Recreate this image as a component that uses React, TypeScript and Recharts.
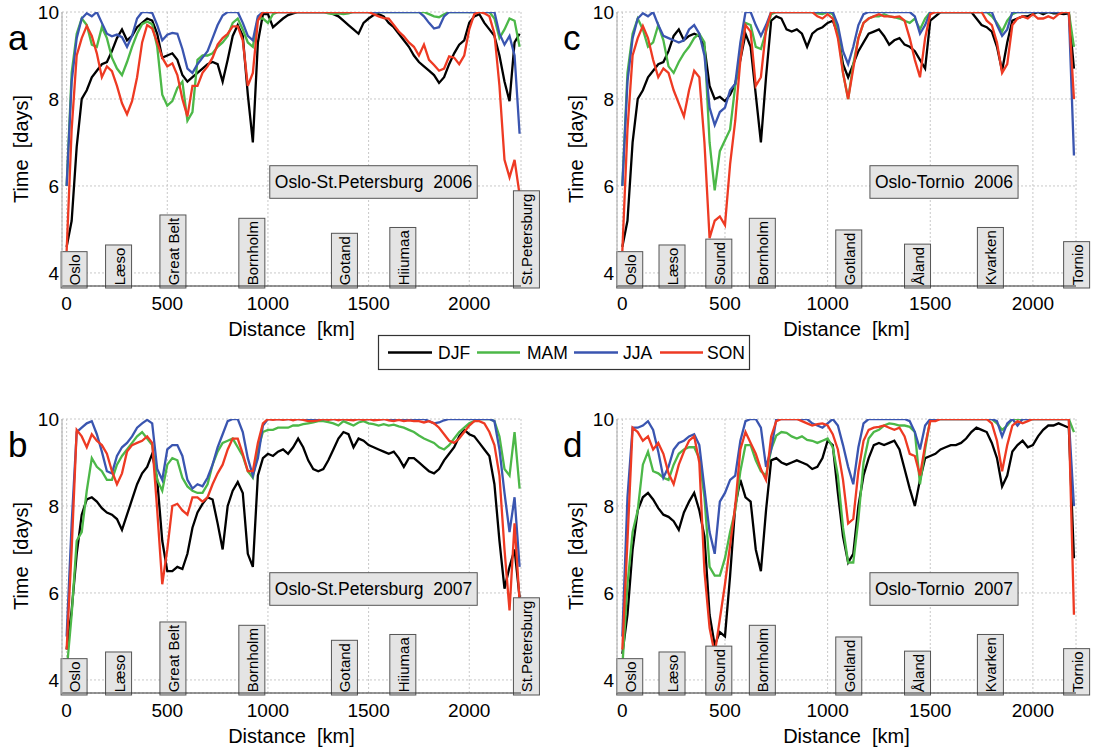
import { LineChart, Line, XAxis, YAxis, CartesianGrid, ReferenceLine } from "recharts";

const FONT = '"Liberation Sans", Arial, Helvetica, sans-serif';

const SEASONS = ["DJF", "MAM", "JJA", "SON"];
const COLORS = ["#000000", "#4cb848", "#3a55b0", "#ee3a23"];

// distance along route, km
const DIST_SP = [
  0, 25, 50, 75, 100, 125, 150, 175, 200, 225,
  250, 275, 300, 325, 350, 375, 400, 425, 450, 475,
  500, 525, 550, 575, 600, 625, 650, 675, 700, 725,
  750, 775, 800, 825, 850, 875, 900, 925, 950, 975,
  1000, 1025, 1050, 1075, 1100, 1125, 1150, 1175, 1200, 1225,
  1250, 1275, 1300, 1325, 1350, 1375, 1400, 1425, 1450, 1475,
  1500, 1525, 1550, 1575, 1600, 1625, 1650, 1675, 1700, 1725,
  1750, 1775, 1800, 1825, 1850, 1875, 1900, 1925, 1950, 1975,
  2000, 2025, 2050, 2075, 2100, 2125, 2150, 2175, 2200, 2225,
  2250,
];
const DIST_TO = [
  0, 25, 50, 75, 100, 125, 150, 175, 200, 225,
  250, 275, 300, 325, 350, 375, 400, 425, 450, 475,
  500, 525, 550, 575, 600, 625, 650, 675, 700, 725,
  750, 775, 800, 825, 850, 875, 900, 925, 950, 975,
  1000, 1025, 1050, 1075, 1100, 1125, 1150, 1175, 1200, 1225,
  1250, 1275, 1300, 1325, 1350, 1375, 1400, 1425, 1450, 1475,
  1500, 1525, 1550, 1575, 1600, 1625, 1650, 1675, 1700, 1725,
  1750, 1775, 1800, 1825, 1850, 1875, 1900, 1925, 1950, 1975,
  2000, 2025, 2050, 2075, 2100, 2125, 2150, 2175, 2200,
];

// a: Oslo-St.Petersburg 2006
const SP06_DJF = [
  4.6, 5.2, 6.9, 8.0, 8.2, 8.5, 8.65, 8.8, 8.85, 9.1,
  9.4, 9.6, 9.35, 9.45, 9.65, 9.75, 9.85, 9.8, 9.5, 8.95,
  9.0, 9.05, 8.9, 8.55, 8.4, 8.5, 8.6, 8.7, 8.8, 8.85,
  8.8, 8.4, 8.9, 9.45, 9.7, 9.45, 8.1, 7.0, 9.3, 9.95,
  9.95, 9.65, 9.75, 9.85, 9.93, 9.97, 10, 10, 10, 10,
  10, 10, 10, 9.95, 9.9, 9.8, 9.7, 9.6, 9.5, 9.75,
  9.85, 9.93, 9.95, 9.9, 9.75, 9.65, 9.5, 9.35, 9.2, 9.0,
  8.85, 8.75, 8.65, 8.55, 8.37, 8.5, 8.8, 9.05, 9.25, 9.35,
  9.75, 9.9, 9.95, 9.75, 9.6, 9.45, 9.0, 8.4, 7.95, 9.3,
  9.5,
];
const SP06_MAM = [
  6.0, 8.6, 9.5, 9.85, 9.7, 9.25, 9.2, 9.65, 9.4, 8.95,
  8.7, 8.55, 8.85, 9.2, 9.5, 9.72, 9.78, 9.72, 9.2, 8.1,
  7.85, 7.95, 8.25, 8.4, 7.5, 7.7, 8.9, 9.0, 9.0, 9.05,
  9.2, 9.3, 9.45, 9.75, 9.85, 9.6, 9.3, 9.2, 9.85, 9.85,
  9.75, 9.95, 10, 10, 10, 10, 10, 10, 10, 10,
  10, 10, 9.97, 9.95, 9.97, 9.95, 9.97, 10, 10, 10,
  10, 10, 10, 10, 10, 10, 10, 10, 10, 10,
  10, 10, 9.95, 9.9, 9.88, 9.95, 10, 10, 10, 10,
  10, 10, 10, 10, 10, 9.85, 9.4, 9.6, 9.85, 9.8,
  9.2,
];
const SP06_JJA = [
  6.0, 8.4, 9.4, 9.85, 9.97, 9.9, 10, 9.75, 9.5, 9.44,
  9.48, 9.42, 9.2, 9.45, 9.85, 10, 10, 9.98, 9.7, 9.35,
  9.48, 9.52, 9.5, 9.15, 8.7, 8.6, 8.8, 8.95, 9.1, 9.4,
  9.7, 9.92, 10, 10, 10, 9.75, 9.45, 9.35, 9.9, 10,
  10, 10, 10, 10, 10, 10, 10, 10, 10, 10,
  10, 10, 10, 10, 10, 10, 10, 10, 10, 10,
  10, 10, 10, 10, 10, 10, 10, 10, 10, 10,
  10, 9.9, 9.75, 9.62, 9.65, 9.9, 10, 10, 10, 10,
  10, 10, 10, 10, 10, 10, 9.5, 9.25, 9.45, 9.0,
  7.2,
];
const SP06_SON = [
  4.5, 7.3, 9.0, 9.4, 9.68, 9.45, 9.05, 8.5, 8.75, 8.64,
  8.3, 7.9, 7.65, 7.95, 8.5, 9.3, 9.7, 9.62, 9.3, 8.95,
  8.75, 8.82, 8.55, 8.0, 7.6, 8.3, 8.3, 8.6, 8.75, 8.95,
  9.25, 9.4, 9.5, 9.67, 9.67, 9.35, 8.3, 8.6, 9.8, 10,
  10, 10, 10, 10, 10, 10, 10, 10, 10, 10,
  10, 10, 10, 10, 10, 10, 10, 10, 10, 10,
  10, 9.95, 9.9, 9.86, 9.85, 9.7, 9.55, 9.44, 9.3, 9.2,
  9.0, 9.25, 8.9, 8.78, 8.65, 8.7, 8.98, 8.95, 8.8, 9.0,
  9.6, 9.95, 10, 9.97, 9.9, 9.5, 8.3, 6.6, 6.2, 6.6,
  5.8,
];

// b: Oslo-St.Petersburg 2007
const SP07_DJF = [
  4.7, 5.6, 6.9, 7.8, 8.15, 8.2, 8.1, 7.95, 7.85, 7.8,
  7.7, 7.45, 7.8, 8.15, 8.5, 8.75, 8.9, 9.2, 8.6, 7.2,
  6.5, 6.5, 6.6, 6.55, 6.9, 7.5, 7.85, 8.05, 8.2, 8.15,
  7.6, 7.0, 8.0, 8.35, 8.55, 8.3, 6.9, 6.6, 8.7, 9.1,
  9.2, 9.15, 9.25, 9.3, 9.2, 9.35, 9.55, 9.35, 9.05, 8.85,
  8.8, 8.85, 9.05, 9.3, 9.55, 9.7, 9.65, 9.35, 9.55, 9.5,
  9.4, 9.35, 9.3, 9.25, 9.2, 9.25, 9.1, 8.9, 9.1, 9.1,
  9.0, 8.9, 8.8, 8.75, 8.85, 9.05, 9.2, 9.35, 9.6, 9.75,
  9.65, 9.6, 9.45, 9.3, 9.15, 8.5, 7.2, 6.1, 6.6, 7.0,
  5.9,
];
const SP07_MAM = [
  4.2, 5.5, 7.2, 7.4, 8.35, 9.1, 8.9, 8.8, 8.6, 8.6,
  8.95, 9.15, 9.3, 9.45, 9.6, 9.7, 9.55, 9.4, 8.6, 8.35,
  8.95, 9.1, 9.05, 8.65, 8.45, 8.35, 8.3, 8.3, 8.5, 8.95,
  9.25, 9.45, 9.5, 9.55, 9.35, 9.15, 8.8, 8.65, 9.3, 9.7,
  9.75, 9.75, 9.8, 9.8, 9.8, 9.85, 9.85, 9.88, 9.9, 9.92,
  9.95, 9.95, 9.93, 9.9, 9.85, 9.95, 9.9, 9.85, 9.92, 9.95,
  9.9, 9.88, 9.85, 9.88, 9.85, 9.87, 9.83, 9.8, 9.75, 9.7,
  9.62, 9.55, 9.5, 9.45, 9.35, 9.3, 9.4, 9.55, 9.7, 9.8,
  9.9, 9.95, 10, 10, 10, 9.95, 9.6, 8.85, 8.7, 9.7,
  8.4,
];
const SP07_JJA = [
  5.0, 7.6, 9.7, 9.8, 9.9, 9.95, 9.65, 9.25, 8.8, 8.75,
  9.15, 9.35, 9.45, 9.6, 9.8, 9.9, 9.98, 9.9, 8.85, 8.6,
  9.3, 9.4, 9.4, 9.15, 8.6, 8.4, 8.5, 8.45, 8.65, 8.95,
  9.35, 9.65, 9.95, 10, 10, 9.7, 9.1, 8.7, 9.1, 9.85,
  10, 10, 10, 10, 10, 10, 10, 10, 10, 10,
  10, 10, 10, 10, 10, 10, 10, 10, 10, 10,
  10, 10, 10, 10, 10, 10, 10, 10, 10, 10,
  10, 10, 9.95, 9.9, 9.92, 9.97, 10, 10, 10, 10,
  10, 10, 10, 10, 10, 9.95, 9.3, 8.3, 7.4, 8.2,
  6.6,
];
const SP07_SON = [
  4.7, 7.0, 9.75, 9.6, 9.35, 9.65, 9.5, 9.4, 9.2, 8.8,
  8.5, 8.75, 9.25, 9.4, 9.45, 9.5, 9.6, 9.45, 7.9, 6.2,
  7.0, 8.0, 8.05, 7.9, 7.8, 8.2, 8.2, 8.1, 8.2, 8.5,
  8.75, 8.95, 9.3, 9.55, 9.55, 9.2, 8.8, 8.8, 9.45, 9.9,
  10, 9.98, 10, 9.98, 10, 9.97, 10, 9.98, 9.95, 9.95,
  9.97, 10, 9.98, 10, 9.97, 10, 9.98, 9.97, 10, 9.98,
  10, 9.97, 9.98, 10, 9.97, 9.95, 9.98, 9.95, 9.97, 9.95,
  9.95, 9.92, 9.95, 9.9, 9.8, 9.65, 9.5, 9.45, 9.55, 9.7,
  9.85, 9.95, 9.95, 9.9, 9.7, 9.4, 8.7, 7.0, 5.6, 7.6,
  5.8,
];

// c: Oslo-Tornio 2006
const TO06_DJF = [
  4.6, 5.2, 7.0, 8.0, 8.2, 8.5, 8.65, 8.8, 8.85, 9.1,
  9.45, 9.6, 9.35, 9.45, 9.5, 9.45, 9.2, 8.3, 8.0, 8.05,
  7.95, 8.1, 8.35, 8.9, 9.5, 9.2, 8.1, 7.0, 8.5, 9.8,
  9.9, 9.85, 9.6, 9.55, 9.6, 9.5, 9.2, 9.5, 9.6, 9.65,
  9.75, 9.8, 9.5, 8.8, 8.5, 8.8, 9.1, 9.3, 9.5, 9.55,
  9.6, 9.45, 9.25, 9.35, 9.4, 9.25, 9.2, 9.1, 8.9, 8.7,
  9.8, 9.9, 10, 10, 10, 10, 10, 10, 10, 9.85,
  9.7, 9.65, 9.55, 9.2, 8.65, 9.3, 9.8, 9.85, 9.9, 9.9,
  9.95, 10, 9.95, 10, 9.97, 9.97, 9.95, 9.97, 8.7,
];
const TO06_MAM = [
  6.0, 8.6, 9.5, 9.85, 9.6, 9.2, 9.3, 9.7, 9.35, 8.75,
  8.6, 8.85, 9.05, 9.2, 9.4, 9.5, 9.3, 7.0, 5.9, 6.8,
  7.05, 7.3, 8.3, 9.0, 9.75, 9.7, 9.2, 9.15, 9.55, 9.95,
  10, 10, 10, 10, 10, 10, 10, 10, 9.97, 9.95,
  10, 9.95, 9.6, 8.6, 8.0, 8.8, 9.4, 9.75, 9.85, 9.9,
  9.9, 9.95, 9.9, 9.88, 9.85, 9.8, 9.75, 9.85, 9.6, 9.85,
  10, 10, 10, 10, 10, 10, 10, 10, 10, 10,
  10, 10, 9.9, 9.75, 9.55, 9.8, 9.95, 10, 10, 10,
  10, 10, 10, 10, 10, 10, 10, 10, 9.2,
];
const TO06_JJA = [
  6.0, 8.4, 9.4, 9.85, 9.97, 9.9, 10, 9.7, 9.45, 9.4,
  9.35, 9.3, 9.35, 9.6, 9.7, 9.5, 9.0, 7.8, 7.4, 7.7,
  7.8, 8.2, 8.35, 9.3, 10, 10, 9.7, 9.45, 9.7, 10,
  10, 10, 10, 10, 10, 10, 10, 10, 10, 10,
  10, 10, 9.7, 9.1, 8.8, 9.2, 9.7, 9.95, 10, 10,
  10, 10, 10, 10, 10, 10, 10, 9.9, 9.5, 9.7,
  10, 10, 10, 10, 10, 10, 10, 10, 10, 10,
  10, 10, 10, 9.7, 9.45, 9.6, 10, 10, 10, 10,
  10, 10, 10, 10, 10, 10, 10, 10, 6.7,
];
const TO06_SON = [
  4.5, 7.3, 9.0, 9.4, 9.68, 9.4, 8.9, 8.5, 8.7, 8.6,
  8.2, 7.9, 7.6, 8.2, 8.65, 8.5, 7.0, 4.8, 5.2, 5.3,
  5.1, 6.5, 7.5, 8.9, 9.7, 9.55, 8.3, 8.5, 9.6, 10,
  10, 10, 10, 10, 10, 10, 10, 10, 9.9, 9.85,
  9.95, 9.85, 9.4, 8.6, 8.0, 8.7, 9.4, 9.75, 9.85, 9.9,
  9.95, 9.9, 9.9, 9.88, 9.9, 9.8, 9.4, 8.9, 8.5, 9.4,
  9.95, 10, 10, 10, 10, 10, 10, 10, 10, 10,
  10, 9.8, 9.7, 9.3, 8.6, 8.8, 9.7, 9.85, 9.9, 9.85,
  9.95, 9.85, 9.85, 9.9, 9.85, 9.95, 10, 10, 8.0,
];

// d: Oslo-Tornio 2007
const TO07_DJF = [
  4.6, 5.5, 7.0, 7.9, 8.2, 8.3, 8.15, 7.95, 7.8, 7.75,
  7.65, 7.45, 7.85, 8.1, 8.3, 7.9, 7.3, 5.5, 4.8, 5.1,
  5.0, 6.4, 8.0, 8.6, 8.2, 8.1, 7.0, 6.5, 7.9, 9.05,
  9.1, 9.0, 8.95, 9.0, 9.05, 9.0, 8.95, 8.85, 8.9, 9.1,
  9.5, 9.4, 8.3, 7.3, 6.7, 6.9, 8.0, 8.7, 9.1, 9.4,
  9.45, 9.4, 9.45, 9.5, 9.3, 8.85, 8.4, 8.0, 8.6, 9.1,
  9.15, 9.2, 9.3, 9.35, 9.4, 9.4, 9.45, 9.55, 9.7, 9.8,
  9.75, 9.7, 9.45, 9.1, 8.45, 8.7, 9.25, 9.4, 9.5, 9.35,
  9.4, 9.6, 9.75, 9.85, 9.85, 9.9, 9.85, 9.8, 6.8,
];
const TO07_MAM = [
  4.3, 6.2, 7.4, 7.9, 8.95, 9.25, 8.8, 8.75, 8.65, 8.6,
  8.95, 9.2, 9.3, 9.35, 9.35, 9.1, 8.2, 6.6, 6.4, 6.4,
  6.8, 7.4, 7.9, 8.8, 9.4, 9.4, 9.05, 8.8, 8.7, 9.3,
  9.62, 9.7, 9.68, 9.6, 9.55, 9.6, 9.52, 9.5, 9.45, 9.5,
  9.55, 9.35, 8.7, 7.5, 6.7, 6.7, 7.7, 9.0, 9.55, 9.7,
  9.75, 9.85, 9.9, 9.88, 9.85, 9.85, 9.82, 9.7, 8.5, 9.3,
  10, 10, 10, 10, 10, 10, 10, 10, 10, 10,
  10, 10, 10, 9.9, 9.75, 9.85, 10, 10, 10, 10,
  10, 10, 10, 10, 10, 10, 10, 10, 9.7,
];
const TO07_JJA = [
  5.0, 8.2, 9.8, 9.8, 9.85, 9.95, 9.75, 9.25, 8.65, 8.9,
  9.3, 9.45, 9.5, 9.6, 9.65, 9.4, 8.4, 7.4, 6.9, 8.1,
  8.3, 8.6, 8.7, 9.5, 9.95, 10, 10, 9.8, 8.9, 9.3,
  10, 10, 10, 10, 10, 10, 10, 9.9, 9.85, 9.8,
  9.9, 10, 9.85, 9.4, 8.9, 8.5, 9.35, 9.9, 10, 10,
  10, 10, 10, 10, 10, 10, 9.95, 9.7, 9.3, 9.85,
  10, 10, 10, 10, 10, 10, 10, 10, 10, 10,
  10, 10, 10, 9.95, 9.6, 9.9, 10, 9.85, 10, 10,
  10, 10, 10, 10, 10, 10, 10, 10, 8.0,
];
const TO07_SON = [
  4.7, 7.2, 9.8, 9.7, 9.5, 9.6, 9.3, 9.45, 9.2, 8.75,
  8.5, 8.95, 9.25, 9.5, 9.6, 9.0, 6.5, 5.2, 4.6, 5.4,
  6.2, 7.1, 8.0, 9.3, 9.7, 9.45, 9.2, 8.85, 8.6, 9.6,
  9.95, 10, 10, 10, 10, 9.95, 9.9, 9.85, 9.88, 9.9,
  9.85, 9.65, 9.3, 8.6, 7.6, 7.7, 8.8, 9.5, 9.75, 9.8,
  9.82, 9.85, 9.8, 9.75, 9.8, 9.6, 9.2, 9.15, 8.7, 9.4,
  9.95, 9.95, 10, 10, 10, 10, 10, 10, 10, 10,
  10, 10, 9.9, 9.5, 8.8, 9.4, 9.85, 9.95, 9.9, 9.95,
  10, 10, 10, 10, 10, 10, 10, 10, 5.5,
];

// place labels along each route (km of label centre)
const SP_PLACES = ["Oslo", "Læso", "Great Belt", "Bornholm", "Gotand", "Hiiumaa", "St.Petersburg"];
const SP_PLACE_KM = [37, 258, 528, 920, 1380, 1670, 2284];
const TO_PLACES = ["Oslo", "Læso", "Sound", "Bornholm", "Gotland", "Åland", "Kvarken", "Tornio"];
const TO_PLACE_KM = [36, 242, 470, 682, 1103, 1438, 1793, 2213];

const Y_TICKS = [4, 6, 8, 10];
const X_TICKS = [0, 500, 1000, 1500, 2000];

let measureCtx: CanvasRenderingContext2D | null = null;
const textWidth = (s: string, size: number) => {
  if (!measureCtx) measureCtx = document.createElement("canvas").getContext("2d");
  if (!measureCtx) return s.length * size * 0.55;
  measureCtx.font = `${size}px ${FONT}`;
  return measureCtx.measureText(s).width;
};

const PlaceBox = ({ viewBox, name }: any) => {
  if (!viewBox) return null;
  const x = viewBox.x;
  const bottom = viewBox.y + viewBox.height + 2;
  const h = textWidth(name, 15) + 5.5;
  return (
    <g>
      <rect x={x - 13} y={bottom - h} width={26} height={h} fill="#e4e4e4" stroke="#555" strokeWidth={1} />
      <text
        transform={`translate(${x + 6}, ${bottom - 2.7}) rotate(-90)`}
        fontSize={15}
        fontFamily={FONT}
        fill="#000"
      >
        {name}
      </text>
    </g>
  );
};

type PanelProps = {
  left: number;
  top: number;
  letter: string;
  title: string;
  titleCx: number;
  dist: number[];
  djf: number[];
  mam: number[];
  jja: number[];
  son: number[];
  places: string[];
  placeKm: number[];
  xDomain: [number, number];
};

function Panel(p: PanelProps) {
  const data = p.dist.map((km, i) => ({
    km,
    DJF: p.djf[i],
    MAM: p.mam[i],
    JJA: p.jja[i],
    SON: p.son[i],
  }));
  const tick = { fontSize: 19, fill: "#000", fontFamily: FONT };
  const titleW = textWidth(p.title, 17.5) + 10;

  return (
    <div style={{ position: "absolute", left: p.left, top: p.top, width: 545, height: 340 }}>
      <LineChart width={545} height={340} data={data} margin={{ top: 12, right: 24, bottom: 24, left: 22 }}>
        <CartesianGrid stroke="#c8c8c8" strokeDasharray="2 2" />
        <XAxis
          type="number"
          dataKey="km"
          domain={p.xDomain}
          ticks={X_TICKS}
          height={30}
          tickSize={0}
          tickMargin={11}
          axisLine={{ stroke: "#333" }}
          tick={tick}
          allowDataOverflow
        />
        <YAxis
          type="number"
          domain={[3.7, 10]}
          ticks={Y_TICKS}
          width={40}
          tickSize={0}
          tickMargin={3}
          axisLine={{ stroke: "#aaa" }}
          tick={tick}
          allowDataOverflow
        />
        {SEASONS.map((s, i) => (
          <Line
            key={s}
            type="linear"
            dataKey={s}
            stroke={COLORS[i]}
            strokeWidth={2.3}
            dot={false}
            isAnimationActive={false}
          />
        ))}
        {p.places.map((name, i) => (
          <ReferenceLine
            key={name}
            x={p.placeKm[i]}
            stroke="none"
            ifOverflow="visible"
            label={<PlaceBox name={name} />}
          />
        ))}
      </LineChart>
      <svg
        width={545}
        height={340}
        style={{ position: "absolute", left: 0, top: 0, pointerEvents: "none", overflow: "visible" }}
      >
        <text x={8} y={50} fontSize={35} fontFamily={FONT} fill="#000">
          {p.letter}
        </text>
        <text
          transform="translate(28, 149) rotate(-90)"
          textAnchor="middle"
          fontSize={20}
          fontFamily={FONT}
          fill="#000"
          style={{ whiteSpace: "pre" }}
        >
          {"Time  [days]"}
        </text>
        <text
          x={291.5}
          y={336}
          textAnchor="middle"
          fontSize={20}
          fontFamily={FONT}
          fill="#000"
          style={{ whiteSpace: "pre" }}
        >
          {"Distance  [km]"}
        </text>
        <rect
          x={p.titleCx - titleW / 2}
          y={165.7}
          width={titleW}
          height={32.6}
          fill="#e4e4e4"
          stroke="#555"
          strokeWidth={1}
        />
        <text
          x={p.titleCx}
          y={188.3}
          textAnchor="middle"
          fontSize={17.5}
          fontFamily={FONT}
          fill="#000"
          style={{ whiteSpace: "pre" }}
        >
          {p.title}
        </text>
      </svg>
    </div>
  );
}

function SeasonLegend() {
  const items = [
    { x1: 388, x2: 432, tx: 438 },
    { x1: 477, x2: 520, tx: 527 },
    { x1: 574, x2: 618, tx: 623 },
    { x1: 660, x2: 703, tx: 707 },
  ];
  return (
    <svg
      width={1093}
      height={752}
      style={{ position: "absolute", left: 0, top: 0, pointerEvents: "none" }}
    >
      <rect x={378.5} y={335.5} width={371} height={34} fill="#fff" stroke="#333" strokeWidth={1.2} />
      {items.map((it, i) => (
        <g key={SEASONS[i]}>
          <line x1={it.x1} x2={it.x2} y1={352.5} y2={352.5} stroke={COLORS[i]} strokeWidth={2.3} />
          <text x={it.tx} y={359} fontSize={17.5} fontFamily={FONT} fill="#000">
            {SEASONS[i]}
          </text>
        </g>
      ))}
    </svg>
  );
}

export default function App() {
  return (
    <div
      style={{
        position: "absolute",
        left: 0,
        top: 0,
        width: 1093,
        height: 752,
        background: "#fff",
        fontFamily: FONT,
      }}
    >
      <Panel
        left={0}
        top={0}
        letter="a"
        title="Oslo-St.Petersburg  2006"
        titleCx={373.5}
        dist={DIST_SP}
        djf={SP06_DJF}
        mam={SP06_MAM}
        jja={SP06_JJA}
        son={SP06_SON}
        places={SP_PLACES}
        placeKm={SP_PLACE_KM}
        xDomain={[-23, 2257]}
      />
      <Panel
        left={555}
        top={0}
        letter="c"
        title="Oslo-Tornio  2006"
        titleCx={389}
        dist={DIST_TO}
        djf={TO06_DJF}
        mam={TO06_MAM}
        jja={TO06_JJA}
        son={TO06_SON}
        places={TO_PLACES}
        placeKm={TO_PLACE_KM}
        xDomain={[-26, 2210]}
      />
      <Panel
        left={0}
        top={407}
        letter="b"
        title="Oslo-St.Petersburg  2007"
        titleCx={373.5}
        dist={DIST_SP}
        djf={SP07_DJF}
        mam={SP07_MAM}
        jja={SP07_JJA}
        son={SP07_SON}
        places={SP_PLACES}
        placeKm={SP_PLACE_KM}
        xDomain={[-23, 2257]}
      />
      <Panel
        left={555}
        top={407}
        letter="d"
        title="Oslo-Tornio  2007"
        titleCx={389}
        dist={DIST_TO}
        djf={TO07_DJF}
        mam={TO07_MAM}
        jja={TO07_JJA}
        son={TO07_SON}
        places={TO_PLACES}
        placeKm={TO_PLACE_KM}
        xDomain={[-26, 2210]}
      />
      <SeasonLegend />
    </div>
  );
}
